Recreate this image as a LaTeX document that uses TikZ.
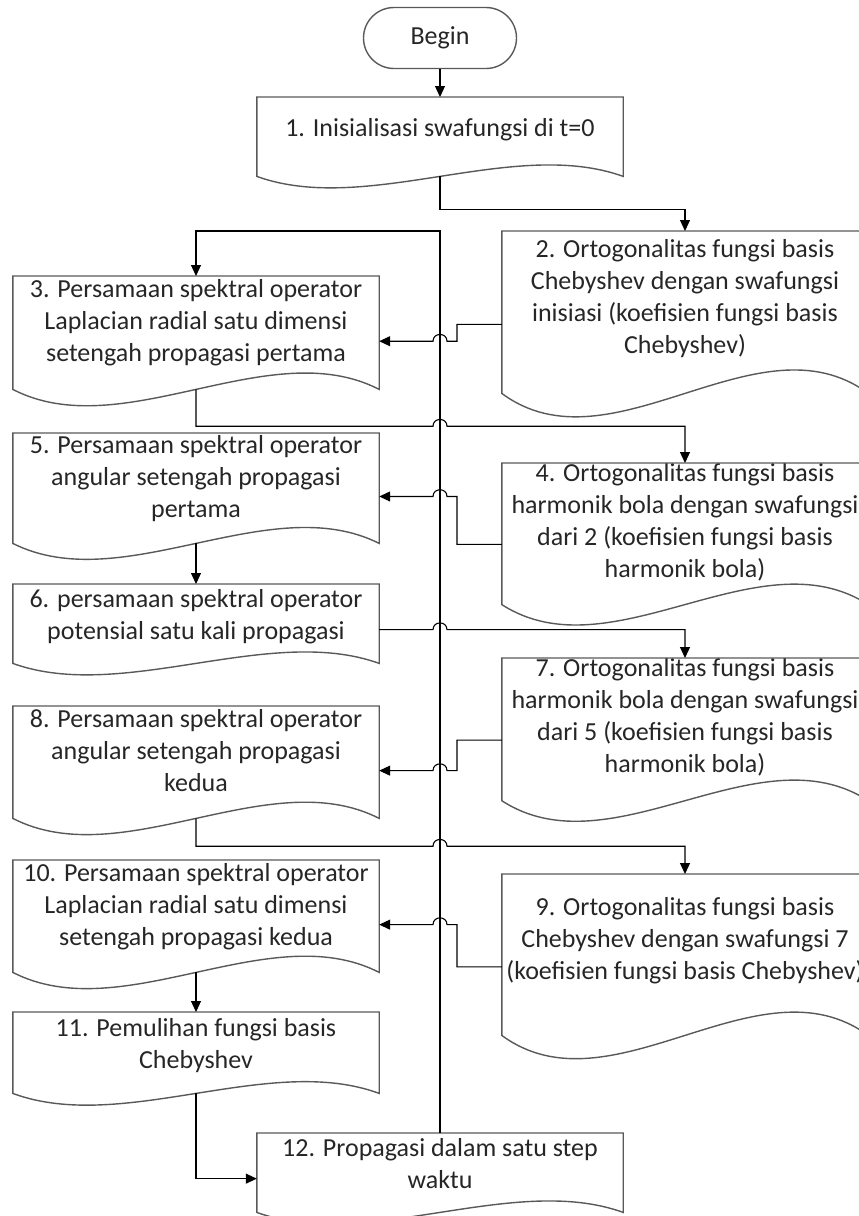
\documentclass[tikz,border=0pt]{standalone}
\usepackage{fontspec}
\setmainfont{Carlito}
\usetikzlibrary{calc, arrows.meta, shapes.misc}
\tikzset{
	terminal/.style={rounded rectangle, draw=black!65, line width=1.4pt,
		minimum width=153pt, minimum height=61pt, inner sep=0pt},
	docbox/.style={minimum width=366pt, minimum height=#1, inner sep=0pt,
		align=center, anchor=north,
		execute at end node={\pgfmathsetlengthmacro\dropdepth{0.16*#1+6}\rule[-\dropdepth]{0pt}{\dropdepth}}},
	boxline/.style={draw=black!65, line width=1.4pt},
	conn/.style={line width=1.1pt, -{Triangle[length=11pt, width=10pt]}},
}
% outline of a document box: flat top, wavy bottom
\newcommand{\docshape}[1]{%
	\draw[boxline] (#1.south west) |- (#1.north east) -- (#1.south east)
		.. controls ($(#1.south east)!.3!(#1.south west)+(#1.center)-(#1.south)$)
		and ($(#1.south west)!.3!(#1.south east)-(#1.center)+(#1.south)$)
		.. (#1.south west) -- cycle;}
% line jump over the return line
\newcommand{\hop}[3]{-- (#1 -| #2) .. controls ($(#1 -| #2)+(0,-9)$) and ($(#1 -| #3)+(0,-9)$) .. (#1 -| #3)}

\begin{document}
\begin{tikzpicture}[x=1pt, y=-1pt, every node/.style={font=\fontsize{26}{32}\selectfont, text=black!85}]
	\useasboundingbox (0,0) rectangle (859,1216);
	\clip (0,0) rectangle (859,1216);

	\node[terminal] (begin) at (440,38) {Begin};
	\node[docbox=79] (b1) at (440,97) {1. Inisialisasi swafungsi di t=0};
	\node[docbox=162] (b2) at (685,231) {2. Ortogonalitas fungsi basis\\ Chebyshev dengan swafungsi\\ inisiasi (koefisien fungsi basis\\ Chebyshev)};
	\node[docbox=113] (b3) at (196,276) {3. Persamaan spektral operator\\ Laplacian radial satu dimensi\\ setengah propagasi pertama};
	\node[docbox=132] (b4) at (685,463) {4. Ortogonalitas fungsi basis\\ harmonik bola dengan swafungsi\\ dari 2 (koefisien fungsi basis\\ harmonik bola)};
	\node[docbox=110] (b5) at (196,433) {5. Persamaan spektral operator\\ angular setengah propagasi\\ pertama};
	\node[docbox=79] (b6) at (196,584) {6. persamaan spektral operator\\ potensial satu kali propagasi};
	\node[docbox=139] (b7) at (685,658) {7. Ortogonalitas fungsi basis\\ harmonik bola dengan swafungsi\\ dari 5 (koefisien fungsi basis\\ harmonik bola)};
	\node[docbox=112] (b8) at (196,706) {8. Persamaan spektral operator\\ angular setengah propagasi\\ kedua};
	\node[docbox=161] (b9) at (685,874) {9. Ortogonalitas fungsi basis\\ Chebyshev dengan swafungsi 7\\ (koefisien fungsi basis Chebyshev)};
	\node[docbox=112] (b10) at (196,860) {10. Persamaan spektral operator\\ Laplacian radial satu dimensi\\ setengah propagasi kedua};
	\node[docbox=81] (b11) at (196,1012) {11. Pemulihan fungsi basis\\ Chebyshev};
	\node[docbox=79] (b12) at (440,1133) {12. Propagasi dalam satu step\\ waktu};
	\foreach \b in {b1,b2,b3,b4,b5,b6,b7,b8,b9,b10,b11,b12}{
		\docshape{\b}
	}

	\coordinate (kink) at (457,0);
	\coordinate (hopL) at ($(b12.north)+(-7,0)$);
	\coordinate (hopR) at ($(b12.north)+(7,0)$);

	% return line
	\draw[conn] (b12.north) -- (b12.north |- b2.north) -| (b3.north);

	\draw[conn] (begin) -- (b1);
	\coordinate (m) at ($(b1.south)!.6!(b2.north)$);
	\draw[conn] (b1.south) -- (b1.south |- m) -| (b2.north);

	% right column back to the left column
	\foreach \a/\c in {b2/b3, b4/b5, b7/b8, b9/b10}{
		\coordinate (s) at ($(\a.north west)!.575!(\a.south west)$);
		\coordinate (t) at ($(\c.north east)!.575!(\c.south east)$);
		\draw[conn] (s) -- (s -| kink) -- (t -| kink) \hop{t}{hopR}{hopL} -- (t);
	}

	% left column over to the right column
	\coordinate (m) at ($(b3.south)!.5!(b4.north)$);
	\draw[conn] (b3.south) -- (b3.south |- m) \hop{m}{hopL}{hopR} -| (b4.north);
	\coordinate (s) at ($(b6.north east)!.575!(b6.south east)$);
	\draw[conn] (s) \hop{s}{hopL}{hopR} -| (b7.north);
	\coordinate (m) at ($(b8.south)!.5!(b9.north)$);
	\draw[conn] (b8.south) -- (b8.south |- m) \hop{m}{hopL}{hopR} -| (b9.north);

	\draw[conn] (b5) -- (b6);
	\draw[conn] (b10) -- (b11);
	\coordinate (t) at ($(b12.north west)!.575!(b12.south west)$);
	\draw[conn] (b11.south) |- (t);
\end{tikzpicture}
\end{document}
